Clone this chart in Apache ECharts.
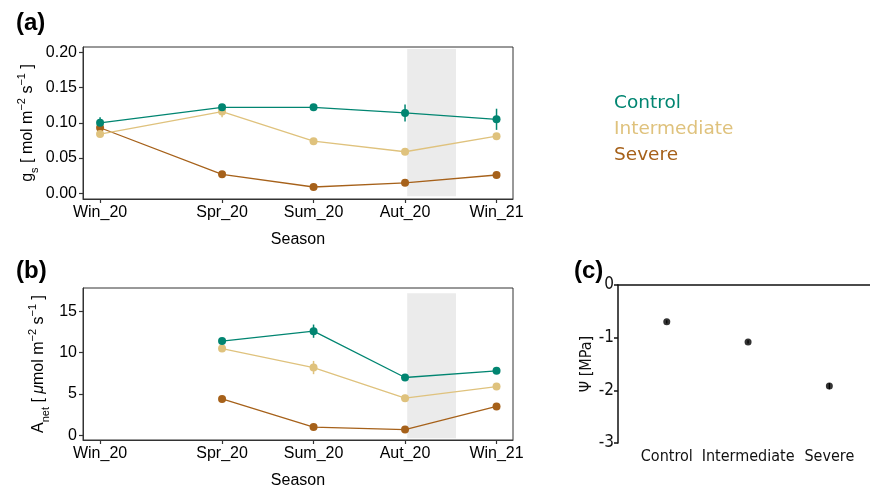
<!DOCTYPE html>
<html>
<head>
<meta charset="utf-8">
<script src="https://cdn.jsdelivr.net/npm/echarts@6/dist/echarts.min.js"></script>
<style>
  html, body { margin: 0; padding: 0; background: #fff; }
  #chart { width: 870px; height: 490px; }
</style>
</head>
<body>
<div id="chart"></div>
<script>
// season labels and their position in months from Win_20
const seasons = ['Win_20', 'Spr_20', 'Sum_20', 'Aut_20', 'Win_21'];
const seasonMonth = [0, 4, 7, 10, 13];

// (a) stomatal conductance gs, mean and se
const gsControl = [0.100, 0.122, 0.122, 0.114, 0.105];
const gsControlSe = [0.008, 0.003, 0.004, 0.012, 0.015];
const gsInter = [0.084, 0.116, 0.074, 0.059, 0.081];
const gsInterSe = [0.004, 0.008, 0.004, 0.003, 0.004];
const gsSevere = [0.093, 0.027, 0.009, 0.015, 0.026];
const gsSevereSe = [0.004, 0.002, 0.002, 0.002, 0.002];
const gsTicks = [0, 0.05, 0.1, 0.15, 0.2];

// (b) net assimilation Anet, no Win_20 measurement
const anControl = [null, 11.4, 12.6, 7.0, 7.8];
const anControlSe = [null, 0.3, 0.8, 0.4, 0.3];
const anInter = [null, 10.5, 8.2, 4.5, 5.9];
const anInterSe = [null, 0.3, 0.8, 0.4, 0.3];
const anSevere = [null, 4.4, 1.0, 0.7, 3.5];
const anSevereSe = [null, 0.3, 0.2, 0.2, 0.3];
const anTicks = [0, 5, 10, 15];

// (c) water potential
const treatments = ['Control', 'Intermediate', 'Severe'];
const psi = [-0.70, -1.08, -1.92];
const psiSe = [0.03, 0.03, 0.06];

// dry period shading (months)
const shadeStart = 10.07;
const shadeEnd = 11.67;

const colors = { Control: '#018571', Intermediate: '#dfc27d', Severe: '#a6611a' };
const sansFont = '"Liberation Sans", Arial, sans-serif';
const dejaFont = '"DejaVu Sans", Verdana, sans-serif';
const condFont = '"DejaVu Sans Condensed", "DejaVu Sans", sans-serif';

const chart = echarts.init(document.getElementById('chart'), null, { renderer: 'canvas' });

function pts(vals) {
    return vals.map((v, i) => v == null ? null : [seasonMonth[i], v]);
}

function errSeries(name, vals, se, color, xi, yi) {
    const data = [];
    vals.forEach((v, i) => { if (v != null) data.push([seasonMonth[i], v - se[i], v + se[i]]); });
    return {
        name: name + '_err', type: 'custom', xAxisIndex: xi, yAxisIndex: yi, z: 3,
        renderItem: (params, api) => {
            const lo = api.coord([api.value(0), api.value(1)]);
            const hi = api.coord([api.value(0), api.value(2)]);
            return { type: 'line', shape: { x1: lo[0], y1: lo[1], x2: hi[0], y2: hi[1] },
                style: { stroke: color, lineWidth: 1.5 } };
        },
        data: data
    };
}

function lineSeries(name, vals, color, xi, yi) {
    return {
        name: name, type: 'line', xAxisIndex: xi, yAxisIndex: yi, z: 4,
        data: pts(vals).filter(p => p),
        symbol: 'circle', symbolSize: 8,
        itemStyle: { color: color },
        lineStyle: { color: color, width: 1.3 }
    };
}

function shadeSeries(xi, yi, yTop, yBot) {
    return {
        type: 'line', xAxisIndex: xi, yAxisIndex: yi, data: [], z: 6, silent: true,
        markArea: {
            silent: true,
            itemStyle: { color: 'rgba(200,200,200,0.36)' },
            data: [[{ coord: [shadeStart, yTop] }, { coord: [shadeEnd, yBot] }]]
        }
    };
}

const seasonAxis = (gi) => ({
    type: 'value', gridIndex: gi, min: -0.56, max: 13.54,
    splitLine: { show: false },
    axisLine: { show: true, onZero: false, lineStyle: { color: '#333', width: 1 } },
    axisTick: { show: true, customValues: seasonMonth, length: 4, lineStyle: { color: '#333', width: 1.2 } },
    axisLabel: {
        customValues: seasonMonth, margin: 6,
        formatter: v => seasons[seasonMonth.indexOf(v)] || '',
        fontFamily: sansFont, fontSize: 16, color: '#000'
    },
    name: 'Season', nameLocation: 'middle', nameGap: 33,
    nameTextStyle: { fontFamily: sansFont, fontSize: 16, color: '#000' }
});

const richName = {
    n: { fontFamily: sansFont, fontSize: 16, color: '#000', verticalAlign: 'middle', lineHeight: 24 },
    i: { fontFamily: sansFont, fontSize: 16, fontStyle: 'italic', color: '#000', verticalAlign: 'middle', lineHeight: 24 },
    sub: { fontFamily: sansFont, fontSize: 11, color: '#000', verticalAlign: 'bottom', lineHeight: 24 },
    sup: { fontFamily: sansFont, fontSize: 11, color: '#000', verticalAlign: 'top', lineHeight: 24 }
};

const panelLabel = { fontFamily: sansFont, fontSize: 24, fontWeight: 'bold', color: '#000' };

const option = {
    backgroundColor: '#fff',
    animation: false,
    title: [
        { text: '(a)', left: 11, top: 6, textStyle: panelLabel },
        { text: '(b)', left: 11, top: 254, textStyle: panelLabel },
        { text: '(c)', left: 569, top: 254, textStyle: panelLabel }
    ],
    graphic: [
        { type: 'text', left: 614, top: 94, style: { text: 'Control', fill: colors.Control, font: '18.5px ' + dejaFont } },
        { type: 'text', left: 614, top: 120, style: { text: 'Intermediate', fill: colors.Intermediate, font: '18.5px ' + dejaFont } },
        { type: 'text', left: 614, top: 146, style: { text: 'Severe', fill: colors.Severe, font: '18.5px ' + dejaFont } }
    ],
    grid: [
        { left: 83, top: 47, width: 430, height: 152, show: true, borderColor: '#333', borderWidth: 1, backgroundColor: 'transparent' },
        { left: 83, top: 288, width: 430, height: 153, show: true, borderColor: '#333', borderWidth: 1, backgroundColor: 'transparent' },
        { left: 618, top: 285, width: 252, height: 158 }
    ],
    xAxis: [
        seasonAxis(0),
        seasonAxis(1),
        {
            type: 'value', gridIndex: 2, min: 0.4, max: 3.5,
            splitLine: { show: false }, axisLine: { show: false }, axisTick: { show: false },
            axisLabel: {
                customValues: [1, 2, 3], margin: 6,
                formatter: v => treatments[v - 1] || '',
                fontFamily: condFont, fontSize: 16, color: '#111'
            }
        },
        {
            type: 'value', gridIndex: 2, position: 'top', min: 0.4, max: 3.5,
            splitLine: { show: false }, axisTick: { show: false }, axisLabel: { show: false },
            axisLine: { show: true, onZero: false, lineStyle: { color: '#111', width: 1.5 } }
        }
    ],
    yAxis: [
        {
            type: 'value', gridIndex: 0, min: -0.008, max: 0.2075,
            splitLine: { show: false },
            axisLine: { show: true, onZero: false, lineStyle: { color: '#333', width: 1 } },
            axisTick: { show: true, customValues: gsTicks, length: 4, lineStyle: { color: '#333', width: 1.2 } },
            axisLabel: { customValues: gsTicks, formatter: v => v.toFixed(2), margin: 6,
                fontFamily: sansFont, fontSize: 16, color: '#000' },
            name: '{n|g}{sub|s}{n| [ mol m}{sup|−2}{n| s}{sup|−1}{n| ]}',
            nameLocation: 'middle', nameGap: 43, nameRotate: 90,
            nameTextStyle: { rich: richName }
        },
        {
            type: 'value', gridIndex: 1, min: -0.56, max: 17.82,
            splitLine: { show: false },
            axisLine: { show: true, onZero: false, lineStyle: { color: '#333', width: 1 } },
            axisTick: { show: true, customValues: anTicks, length: 4, lineStyle: { color: '#333', width: 1.2 } },
            axisLabel: { customValues: anTicks, margin: 6, fontFamily: sansFont, fontSize: 16, color: '#000' },
            name: '{n|A}{sub|net}{n| [ }{i|μ}{n|mol m}{sup|−2}{n| s}{sup|−1}{n| ]}',
            nameLocation: 'middle', nameGap: 32, nameRotate: 90,
            nameTextStyle: { rich: richName }
        },
        {
            type: 'value', gridIndex: 2, min: -3, max: 0, interval: 1,
            splitLine: { show: false },
            axisLine: { show: true, lineStyle: { color: '#111', width: 1.5 } },
            axisTick: { show: true, length: 4, lineStyle: { color: '#111', width: 1.5 } },
            axisLabel: { margin: 4, fontFamily: condFont, fontSize: 17, color: '#111' },
            name: 'Ψ [MPa]', nameLocation: 'middle', nameGap: 21, nameRotate: 90,
            nameTextStyle: { fontFamily: condFont, fontSize: 16, color: '#111' }
        }
    ],
    series: [
        errSeries('gsC', gsControl, gsControlSe, colors.Control, 0, 0),
        errSeries('gsI', gsInter, gsInterSe, colors.Intermediate, 0, 0),
        errSeries('gsS', gsSevere, gsSevereSe, colors.Severe, 0, 0),
        lineSeries('Severe', gsSevere, colors.Severe, 0, 0),
        lineSeries('Intermediate', gsInter, colors.Intermediate, 0, 0),
        lineSeries('Control', gsControl, colors.Control, 0, 0),
        shadeSeries(0, 0, 0.2045, -0.004),

        errSeries('anC', anControl, anControlSe, colors.Control, 1, 1),
        errSeries('anI', anInter, anInterSe, colors.Intermediate, 1, 1),
        errSeries('anS', anSevere, anSevereSe, colors.Severe, 1, 1),
        lineSeries('Severe', anSevere, colors.Severe, 1, 1),
        lineSeries('Intermediate', anInter, colors.Intermediate, 1, 1),
        lineSeries('Control', anControl, colors.Control, 1, 1),
        shadeSeries(1, 1, 17.2, -0.36),

        {
            type: 'custom', xAxisIndex: 2, yAxisIndex: 2, z: 3,
            renderItem: (params, api) => {
                const lo = api.coord([api.value(0), api.value(1)]);
                const hi = api.coord([api.value(0), api.value(2)]);
                return { type: 'line', shape: { x1: lo[0], y1: lo[1], x2: hi[0], y2: hi[1] },
                    style: { stroke: '#000', lineWidth: 1.2 } };
            },
            data: psi.map((v, i) => [i + 1, v - psiSe[i], v + psiSe[i]])
        },
        {
            type: 'scatter', xAxisIndex: 2, yAxisIndex: 2, z: 4,
            symbol: 'circle', symbolSize: 7,
            itemStyle: { color: '#000' },
            data: psi.map((v, i) => [i + 1, v])
        }
    ]
};

chart.setOption(option);
</script>
</body>
</html>
